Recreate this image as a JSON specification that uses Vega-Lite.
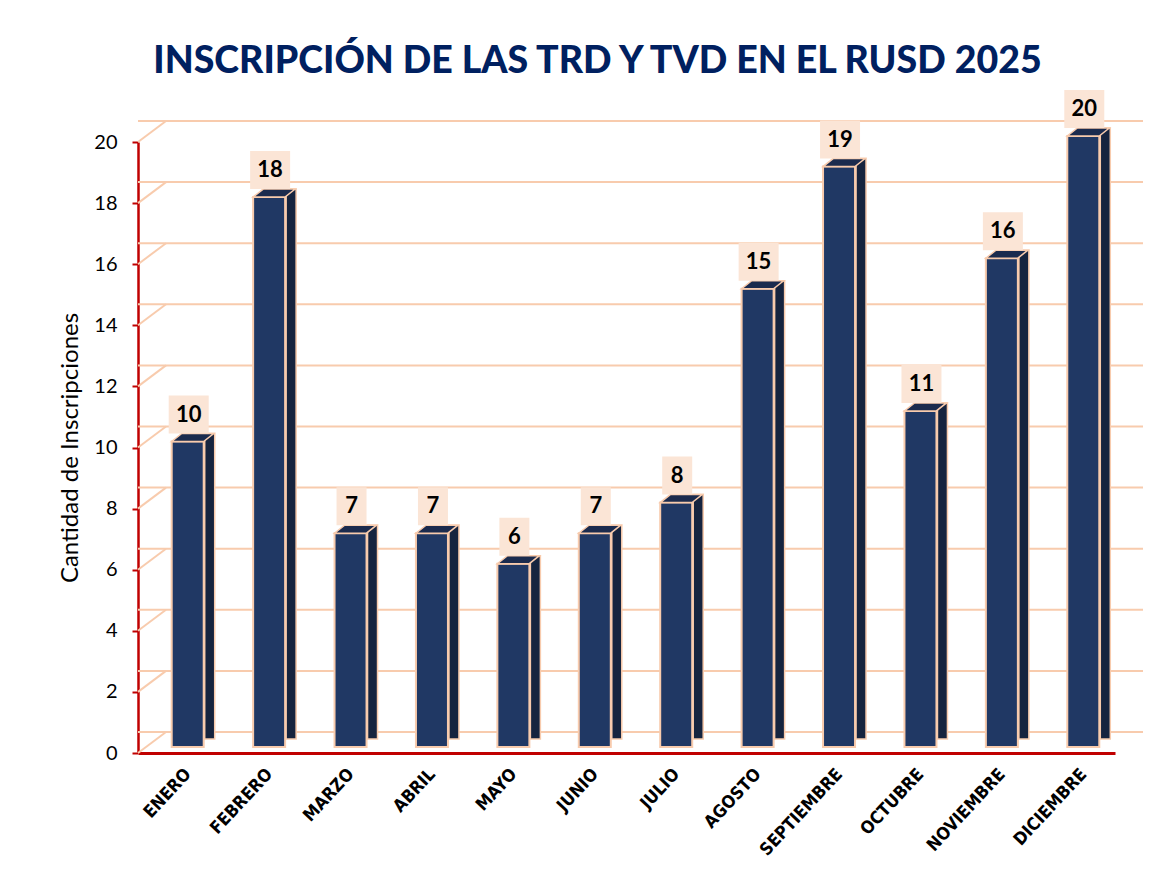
{
  "$schema": "https://vega.github.io/schema/vega-lite/v6.json",
  "width": 977,
  "height": 611,
  "autosize": "none",
  "padding": {"left": 138, "top": 142, "right": 61, "bottom": 121},
  "background": "white",
  "title": {
    "text": "INSCRIPCIÓN DE LAS TRD Y TVD EN EL RUSD 2025",
    "font": "Lato",
    "fontWeight": 900,
    "fontSize": 37.5,
    "color": "#002060",
    "anchor": "middle",
    "dx": -29,
    "offset": 10
  },
  "config": {"view": {"stroke": null}},
  "datasets": {
    "meses": [
      {"mes": "ENERO", "n": 10},
      {"mes": "FEBRERO", "n": 18},
      {"mes": "MARZO", "n": 7},
      {"mes": "ABRIL", "n": 7},
      {"mes": "MAYO", "n": 6},
      {"mes": "JUNIO", "n": 7},
      {"mes": "JULIO", "n": 8},
      {"mes": "AGOSTO", "n": 15},
      {"mes": "SEPTIEMBRE", "n": 19},
      {"mes": "OCTUBRE", "n": 11},
      {"mes": "NOVIEMBRE", "n": 16},
      {"mes": "DICIEMBRE", "n": 20}
    ],
    "grid": [
      {"g": 0}, {"g": 2}, {"g": 4}, {"g": 6}, {"g": 8}, {"g": 10},
      {"g": 12}, {"g": 14}, {"g": 16}, {"g": 18}, {"g": 20}
    ]
  },
  "layer": [
    {
      "data": {"name": "grid"},
      "mark": {"type": "rule", "color": "#f8cbad", "strokeWidth": 2, "xOffset": 28, "x2Offset": 28, "yOffset": -21},
      "encoding": {
        "y": {
          "field": "g",
          "type": "quantitative",
          "scale": {"domain": [0, 20], "nice": false},
          "axis": {
            "title": "Cantidad de Inscripciones",
            "titleFont": "Lato",
            "titleFontSize": 24,
            "titleFontWeight": "normal",
            "titleColor": "#000000",
            "titlePadding": 11,
            "values": [0, 2, 4, 6, 8, 10, 12, 14, 16, 18, 20],
            "labelFont": "Lato",
            "labelFontSize": 20,
            "labelColor": "#000000",
            "labelPadding": 15,
            "tickColor": "#c00000",
            "tickSize": 6,
            "tickWidth": 2,
            "domainColor": "#c00000",
            "domainWidth": 2.5,
            "grid": false
          }
        }
      }
    },
    {
      "data": {"name": "grid"},
      "mark": {"type": "rule", "color": "#f8cbad", "strokeWidth": 2, "y2Offset": -21},
      "encoding": {
        "x": {"value": 0},
        "x2": {"value": 28},
        "y": {"field": "g", "type": "quantitative", "scale": {"domain": [0, 20], "nice": false}},
        "y2": {"field": "g"}
      }
    },
    {
      "data": {"name": "meses"},
      "encoding": {
        "x": {
          "field": "mes",
          "type": "nominal",
          "sort": null,
          "scale": {"paddingInner": 0, "paddingOuter": 0},
          "axis": {
            "title": null,
            "labelAngle": -47,
            "labelAlign": "right",
            "labelBaseline": "top",
            "labelFont": "DejaVu Sans Condensed, Liberation Sans Narrow, Roboto Condensed, sans-serif",
            "labelFontWeight": "bold",
            "labelFontSize": 17.5,
            "labelColor": "#000000",
            "labelPadding": 12,
            "labelOffset": 3,
            "ticks": false,
            "domainColor": "#c00000",
            "domainWidth": 3,
            "grid": false
          }
        },
        "y": {
          "field": "n",
          "type": "quantitative",
          "scale": {"domain": [0, 20], "nice": false}
        }
      },
      "layer": [
        {
          "mark": {"type": "bar", "size": 10, "xOffset": 31, "yOffset": -14, "y2Offset": -7, "color": "#16243f", "stroke": "#f8cbad", "strokeWidth": 1.5}
        },
        {
          "mark": {"type": "bar", "size": 32, "xOffset": 9, "yOffset": -6, "y2Offset": -6, "color": "#203864", "stroke": "#f8cbad", "strokeWidth": 2}
        },
        {
          "mark": {
            "type": "point",
            "shape": "M -1 0.19 L 0.52 0.19 L 1 -0.19 L -0.52 -0.19 Z",
            "size": 1764,
            "filled": true,
            "opacity": 1,
            "color": "#1b2b4e",
            "stroke": "#f8cbad",
            "strokeWidth": 1.5,
            "xOffset": 14,
            "yOffset": -10
          }
        },
        {
          "transform": [{"filter": "datum.n >= 10"}],
          "mark": {"type": "bar", "size": 40, "xOffset": 10, "yOffset": -52, "y2Offset": -14, "color": "#fbe5d6"},
          "encoding": {"y2": {"field": "n"}}
        },
        {
          "transform": [{"filter": "datum.n < 10"}],
          "mark": {"type": "bar", "size": 30, "xOffset": 10, "yOffset": -52, "y2Offset": -14, "color": "#fbe5d6"},
          "encoding": {"y2": {"field": "n"}}
        },
        {
          "mark": {"type": "text", "font": "Lato", "fontWeight": "bold", "fontSize": 22, "color": "#000000", "xOffset": 10, "yOffset": -33, "baseline": "middle", "align": "center"},
          "encoding": {"text": {"field": "n", "type": "quantitative"}}
        }
      ]
    }
  ]
}
